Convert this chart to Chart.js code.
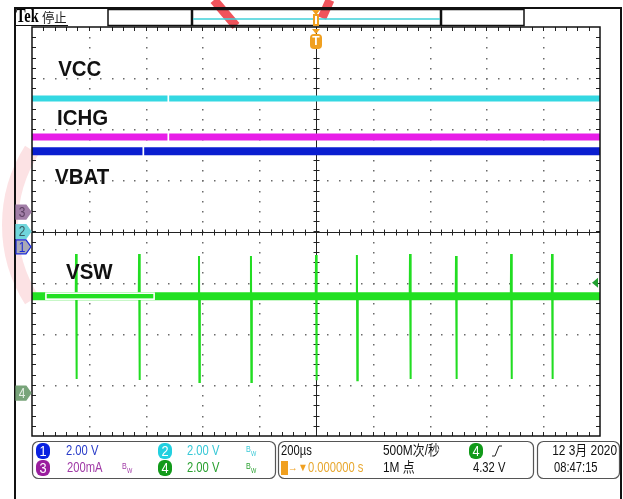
<!DOCTYPE html>
<html lang="zh">
<head>
<meta charset="UTF-8">
<title>Tek scope capture</title>
<script src="https://cdn.jsdelivr.net/npm/chart.js@4.4.8/dist/chart.umd.min.js"></script>
<style>
  body { margin: 0; background: #fff; }
  canvas { display: block; }
</style>
</head>
<body>
<canvas id="scope" width="623" height="499"></canvas>
<script>
// horizontal: 200us/div, 10 divisions, trigger at centre (t = 0)
const timeRange = [-1000, 1000];
const divisions = 8;

// volts (or amps) per division and ground marker position (divisions from bottom)
const chScale = { ch1: 2, ch2: 2, ch3: 0.2, ch4: 2 };
const chGround = { ch1: 3.70, ch2: 4.00, ch3: 4.38, ch4: 0.84 };
const trigLevel = 4.32;

// CH2 - VCC (V)
const vccTimes = [-1000, -523, -520, -517, 1000];
const vccVolts = [5.20, 5.20, null, 5.20, 5.20];

// CH3 - ICHG (A)
const ichgTimes = [-1000, -523, -520, -517, 1000];
const ichgAmps = [0.294, 0.294, null, 0.294, 0.294];

// CH1 - VBAT (V)
const vbatTimes = [-1000, -611, -608, -605, 1000];
const vbatVolts = [3.74, 3.74, null, 3.74, 3.74];

// CH4 - VSW (V): baseline plus switching spikes
const vswTimes = [-1000, 1000];
const vswVolts = [3.79, 3.79];
const spikeTimes = [-845, -623, -412, -229, 0, 144, 331, 493, 687, 831];
const spikeHigh = [5.44, 5.44, 5.36, 5.36, 5.40, 5.40, 5.44, 5.36, 5.44, 5.44];
const spikeLow = [0.55, 0.51, 0.43, 0.43, 0.50, 0.50, 0.55, 0.55, 0.55, 0.55];
const vswBoxTimes = [-951, -570];

// trace name labels: text, time, division
const labelText = ['VCC', 'ICHG', 'VBAT', 'VSW'];
const labelTimes = [-908, -912, -919, -880];
const labelDivs = [7.16, 6.20, 5.05, 3.19];

function toDiv(ch, v) {
  return v === null ? null : chGround[ch] + v / chScale[ch];
}
function points(times, vals, ch) {
  return times.map((t, i) => ({ x: t, y: toDiv(ch, vals[i]) }));
}
function spikePoints() {
  const pts = [];
  const base = toDiv('ch4', vswVolts[0]);
  spikeTimes.forEach((t, i) => {
    pts.push({ x: t - 1, y: base });
    pts.push({ x: t, y: toDiv('ch4', spikeHigh[i]) });
    pts.push({ x: t + 1.5, y: toDiv('ch4', spikeLow[i]) });
    pts.push({ x: t + 3, y: base });
    pts.push({ x: t + 4, y: null });
  });
  return pts;
}

// narrow scope-style text
function txt(ctx, s, x, y, color, size, opt) {
  opt = opt || {};
  ctx.save();
  ctx.font = (opt.weight || '') + ' ' + size + 'px ' + (opt.family || '"Liberation Sans", "Noto Sans CJK SC", sans-serif');
  ctx.fillStyle = color;
  ctx.textAlign = opt.align || 'left';
  ctx.textBaseline = 'middle';
  ctx.translate(x, y);
  ctx.scale(opt.sx || 0.8, 1);
  ctx.fillText(s, 0, 0);
  ctx.restore();
}
function badge(ctx, n, x, y, fill) {
  ctx.save();
  ctx.fillStyle = fill;
  ctx.beginPath();
  ctx.roundRect(x, y - 8, 14, 16, 6);
  ctx.fill();
  ctx.restore();
  txt(ctx, n, x + 7, y + 1, '#fff', 15, { align: 'center', sx: 0.85 });
}
function bw(ctx, x, y, color) {
  txt(ctx, 'B', x, y - 1, color, 9, { sx: 0.8 });
  txt(ctx, 'W', x + 5, y + 3, color, 7, { sx: 0.8 });
}

const scopePlugin = {
  id: 'scope',
  beforeDraw(chart) {
    const ctx = chart.ctx;
    ctx.save();
    ctx.fillStyle = '#fff';
    ctx.fillRect(0, 0, chart.width, chart.height);
    // faint watermark
    ctx.strokeStyle = 'rgba(240, 110, 120, 0.2)';
    ctx.lineWidth = 16;
    ctx.beginPath();
    ctx.arc(150, 225, 140, Math.PI * 0.82, Math.PI * 1.18);
    ctx.stroke();
    ctx.strokeStyle = 'rgba(235, 40, 50, 0.8)';
    ctx.lineWidth = 9;
    ctx.beginPath();
    ctx.moveTo(214, 0); ctx.lineTo(236, 26);
    ctx.moveTo(330, 0); ctx.lineTo(322, 18);
    ctx.stroke();
    ctx.restore();
  },
  beforeDatasetsDraw(chart) {
    const ctx = chart.ctx, xs = chart.scales.x, ys = chart.scales.y;
    const a = chart.chartArea;
    const xStep = (timeRange[1] - timeRange[0]) / 10;
    ctx.save();
    ctx.fillStyle = '#6a6a6a';
    for (let i = 1; i < 10; i++) {
      if (i === 5) continue;
      const x = xs.getPixelForValue(timeRange[0] + i * xStep);
      for (let d = 0.2; d < divisions; d += 0.2) {
        ctx.fillRect(Math.round(x), Math.round(ys.getPixelForValue(d)), 1.5, 1.5);
      }
    }
    for (let j = 1; j < divisions; j++) {
      if (j === 4) continue;
      const y = ys.getPixelForValue(j);
      for (let k = 1; k < 50; k++) {
        ctx.fillRect(Math.round(xs.getPixelForValue(timeRange[0] + k * xStep / 5)), Math.round(y), 1.5, 1.5);
      }
    }
    // centre crosshair with ticks
    ctx.strokeStyle = '#222';
    ctx.lineWidth = 1;
    const cx = Math.round(xs.getPixelForValue(0)) + 0.5;
    const cy = Math.round(ys.getPixelForValue(divisions / 2)) + 0.5;
    ctx.beginPath();
    ctx.moveTo(cx, a.top); ctx.lineTo(cx, a.bottom);
    ctx.moveTo(a.left, cy); ctx.lineTo(a.right, cy);
    for (let d = 0.2; d < divisions; d += 0.2) {
      const y = Math.round(ys.getPixelForValue(d)) + 0.5;
      ctx.moveTo(cx - 3, y); ctx.lineTo(cx + 3, y);
      ctx.moveTo(a.left, y); ctx.lineTo(a.left + 4, y);
      ctx.moveTo(a.right, y); ctx.lineTo(a.right - 4, y);
    }
    for (let k = 1; k < 50; k++) {
      const x = Math.round(xs.getPixelForValue(timeRange[0] + k * xStep / 5)) + 0.5;
      ctx.moveTo(x, cy - 3); ctx.lineTo(x, cy + 3);
      ctx.moveTo(x, a.top); ctx.lineTo(x, a.top + 4);
      ctx.moveTo(x, a.bottom); ctx.lineTo(x, a.bottom - 4);
    }
    ctx.stroke();
    ctx.restore();
  },
  afterDatasetsDraw(chart) {
    const ctx = chart.ctx, xs = chart.scales.x, ys = chart.scales.y;
    const a = chart.chartArea;
    ctx.save();
    // white label box on VSW trace
    const base = ys.getPixelForValue(toDiv('ch4', vswVolts[0]));
    const bx0 = xs.getPixelForValue(vswBoxTimes[0]), bx1 = xs.getPixelForValue(vswBoxTimes[1]);
    ctx.strokeStyle = '#fff';
    ctx.lineWidth = 1.6;
    ctx.strokeRect(bx0, base - 3, bx1 - bx0, 6);

    // trace labels
    labelText.forEach((s, i) => {
      txt(ctx, s, xs.getPixelForValue(labelTimes[i]), ys.getPixelForValue(labelDivs[i]), '#111', 22,
        { weight: 'bold', sx: 0.93 });
    });

    // plot frame
    ctx.strokeStyle = '#111';
    ctx.lineWidth = 1.5;
    ctx.strokeRect(a.left, a.top, a.right - a.left, a.bottom - a.top);

    // outer frame and header
    ctx.lineWidth = 2;
    ctx.beginPath();
    ctx.moveTo(15, 499); ctx.lineTo(15, 8); ctx.lineTo(621, 8); ctx.lineTo(621, 499);
    ctx.stroke();
    ctx.lineWidth = 1;
    ctx.beginPath();
    ctx.moveTo(15, 25.5); ctx.lineTo(68, 25.5);
    ctx.stroke();
    txt(ctx, 'Tek', 16, 17, '#000', 18, { weight: 'bold', family: '"Liberation Serif", serif', sx: 0.8 });
    txt(ctx, '停止', 42, 17, '#222', 13, { family: '"Noto Sans CJK SC", sans-serif', sx: 0.95 });
    ctx.lineWidth = 1.5;
    ctx.strokeRect(108, 9.5, 416, 16);
    ctx.lineWidth = 2.5;
    ctx.beginPath();
    ctx.moveTo(192, 10); ctx.lineTo(192, 26);
    ctx.moveTo(441, 10); ctx.lineTo(441, 26);
    ctx.stroke();
    ctx.strokeStyle = '#3fd0d8';
    ctx.lineWidth = 1.5;
    ctx.beginPath();
    ctx.moveTo(193, 19); ctx.lineTo(440, 19);
    ctx.stroke();

    // trigger position markers
    const tx = xs.getPixelForValue(0);
    ctx.fillStyle = '#f0a020';
    ctx.beginPath();
    ctx.moveTo(tx - 4, 10); ctx.lineTo(tx + 4, 10); ctx.lineTo(tx, 15); ctx.closePath();
    ctx.fill();
    ctx.fillRect(tx - 3, 14, 6, 12);
    ctx.fillStyle = '#fff';
    ctx.fillRect(tx - 1, 16, 2, 8);
    ctx.fillStyle = '#f0a020';
    ctx.beginPath();
    ctx.moveTo(tx - 4, 29); ctx.lineTo(tx + 4, 29); ctx.lineTo(tx, 34); ctx.closePath();
    ctx.fill();
    ctx.beginPath();
    ctx.roundRect(tx - 6, 34, 12, 15, 4);
    ctx.fill();
    txt(ctx, 'T', tx, 42, '#fff', 12, { weight: 'bold', align: 'center', sx: 1 });

    // trigger level arrow (CH4)
    const ty = ys.getPixelForValue(toDiv('ch4', trigLevel));
    ctx.fillStyle = '#20a030';
    ctx.beginPath();
    ctx.moveTo(a.right - 8, ty); ctx.lineTo(a.right - 2, ty - 5); ctx.lineTo(a.right - 2, ty + 5); ctx.closePath();
    ctx.fill();

    // channel ground markers on the left
    const markers = [
      ['3', 'ch3', '#a27fa8', '#a27fa8', '#5c3f62'],
      ['2', 'ch2', '#6fd6dc', '#6fd6dc', '#3a5c62'],
      ['1', 'ch1', '#a9a9b6', '#1a2ad8', '#1a2ad8'],
      ['4', 'ch4', '#78a47a', '#78a47a', '#e6efe6']
    ];
    markers.forEach(m => {
      const y = ys.getPixelForValue(chGround[m[1]]);
      ctx.fillStyle = m[2];
      ctx.strokeStyle = m[3];
      ctx.lineWidth = 1.2;
      ctx.beginPath();
      ctx.moveTo(16, y - 7); ctx.lineTo(26, y - 7); ctx.lineTo(31, y);
      ctx.lineTo(26, y + 7); ctx.lineTo(16, y + 7); ctx.closePath();
      ctx.fill();
      ctx.stroke();
      txt(ctx, m[0], 22, y + 1, m[4], 14, { align: 'center', sx: 0.85 });
    });

    // status bar
    ctx.strokeStyle = '#555';
    ctx.lineWidth = 1.2;
    [[32, 243], [278, 255], [537, 82]].forEach(b => {
      ctx.beginPath();
      ctx.roundRect(b[0] + 0.5, 441.5, b[1], 37, 6);
      ctx.stroke();
    });
    const r1 = 451, r2 = 468;
    badge(ctx, '1', 36, r1, '#0a22e0');
    txt(ctx, '2.00 V', 66, r1, '#2a3cc8', 14);
    badge(ctx, '2', 158, r1, '#22d0e0');
    txt(ctx, '2.00 V', 187, r1, '#38c8d6', 14);
    bw(ctx, 246, r1, '#38c8d6');
    badge(ctx, '3', 36, r2, '#9a1e9e');
    txt(ctx, '200mA', 67, r2, '#a03aa6', 14);
    bw(ctx, 122, r2, '#a03aa6');
    badge(ctx, '4', 158, r2, '#129a1a');
    txt(ctx, '2.00 V', 187, r2, '#2aa030', 14);
    bw(ctx, 246, r2, '#2aa030');

    txt(ctx, '200µs', 281, r1, '#111', 14);
    txt(ctx, '500M次/秒', 383, r1, '#111', 14, { sx: 0.85 });
    badge(ctx, '4', 469, r1, '#129a1a');
    ctx.strokeStyle = '#222';
    ctx.lineWidth = 1;
    ctx.beginPath();
    ctx.moveTo(492, r1 + 5); ctx.lineTo(495, r1 + 5); ctx.lineTo(499, r1 - 5); ctx.lineTo(502, r1 - 5);
    ctx.stroke();
    ctx.fillStyle = '#f0a020';
    ctx.fillRect(281, r2 - 7, 7, 14);
    txt(ctx, '→▼', 288, r2, '#f0a020', 11, { sx: 0.9 });
    txt(ctx, '0.000000 s', 308, r2, '#e8a830', 14);
    txt(ctx, '1M 点', 383, r2, '#111', 14, { sx: 0.85 });
    txt(ctx, '4.32 V', 473, r2, '#111', 14);

    txt(ctx, '12 3月 2020', 617, r1, '#111', 14, { align: 'right', sx: 0.85 });
    txt(ctx, '08:47:15', 554, r2, '#111', 14);
    ctx.restore();
  }
};

const ds = (label, data, color, width) => ({
  label, data, borderColor: color, borderWidth: width,
  pointRadius: 0, tension: 0, spanGaps: false, fill: false, borderCapStyle: 'butt'
});

new Chart(document.getElementById('scope').getContext('2d'), {
  type: 'line',
  data: {
    datasets: [
      ds('VSW', points(vswTimes, vswVolts, 'ch4'), '#22e022', 8),
      ds('VSW spikes', spikePoints(), '#22dd22', 2),
      ds('VBAT', points(vbatTimes, vbatVolts, 'ch1'), '#0a1ed0', 8),
      ds('ICHG', points(ichgTimes, ichgAmps, 'ch3'), '#e81ee8', 7),
      ds('VCC', points(vccTimes, vccVolts, 'ch2'), '#34d8e2', 6)
    ]
  },
  options: {
    responsive: false,
    animation: false,
    devicePixelRatio: 1,
    layout: { padding: { left: 32, right: 23, top: 27, bottom: 63 } },
    plugins: { legend: { display: false }, tooltip: { enabled: false } },
    scales: {
      x: { type: 'linear', min: timeRange[0], max: timeRange[1], display: false },
      y: { type: 'linear', min: 0, max: divisions, display: false }
    }
  },
  plugins: [scopePlugin]
});
</script>
</body>
</html>
